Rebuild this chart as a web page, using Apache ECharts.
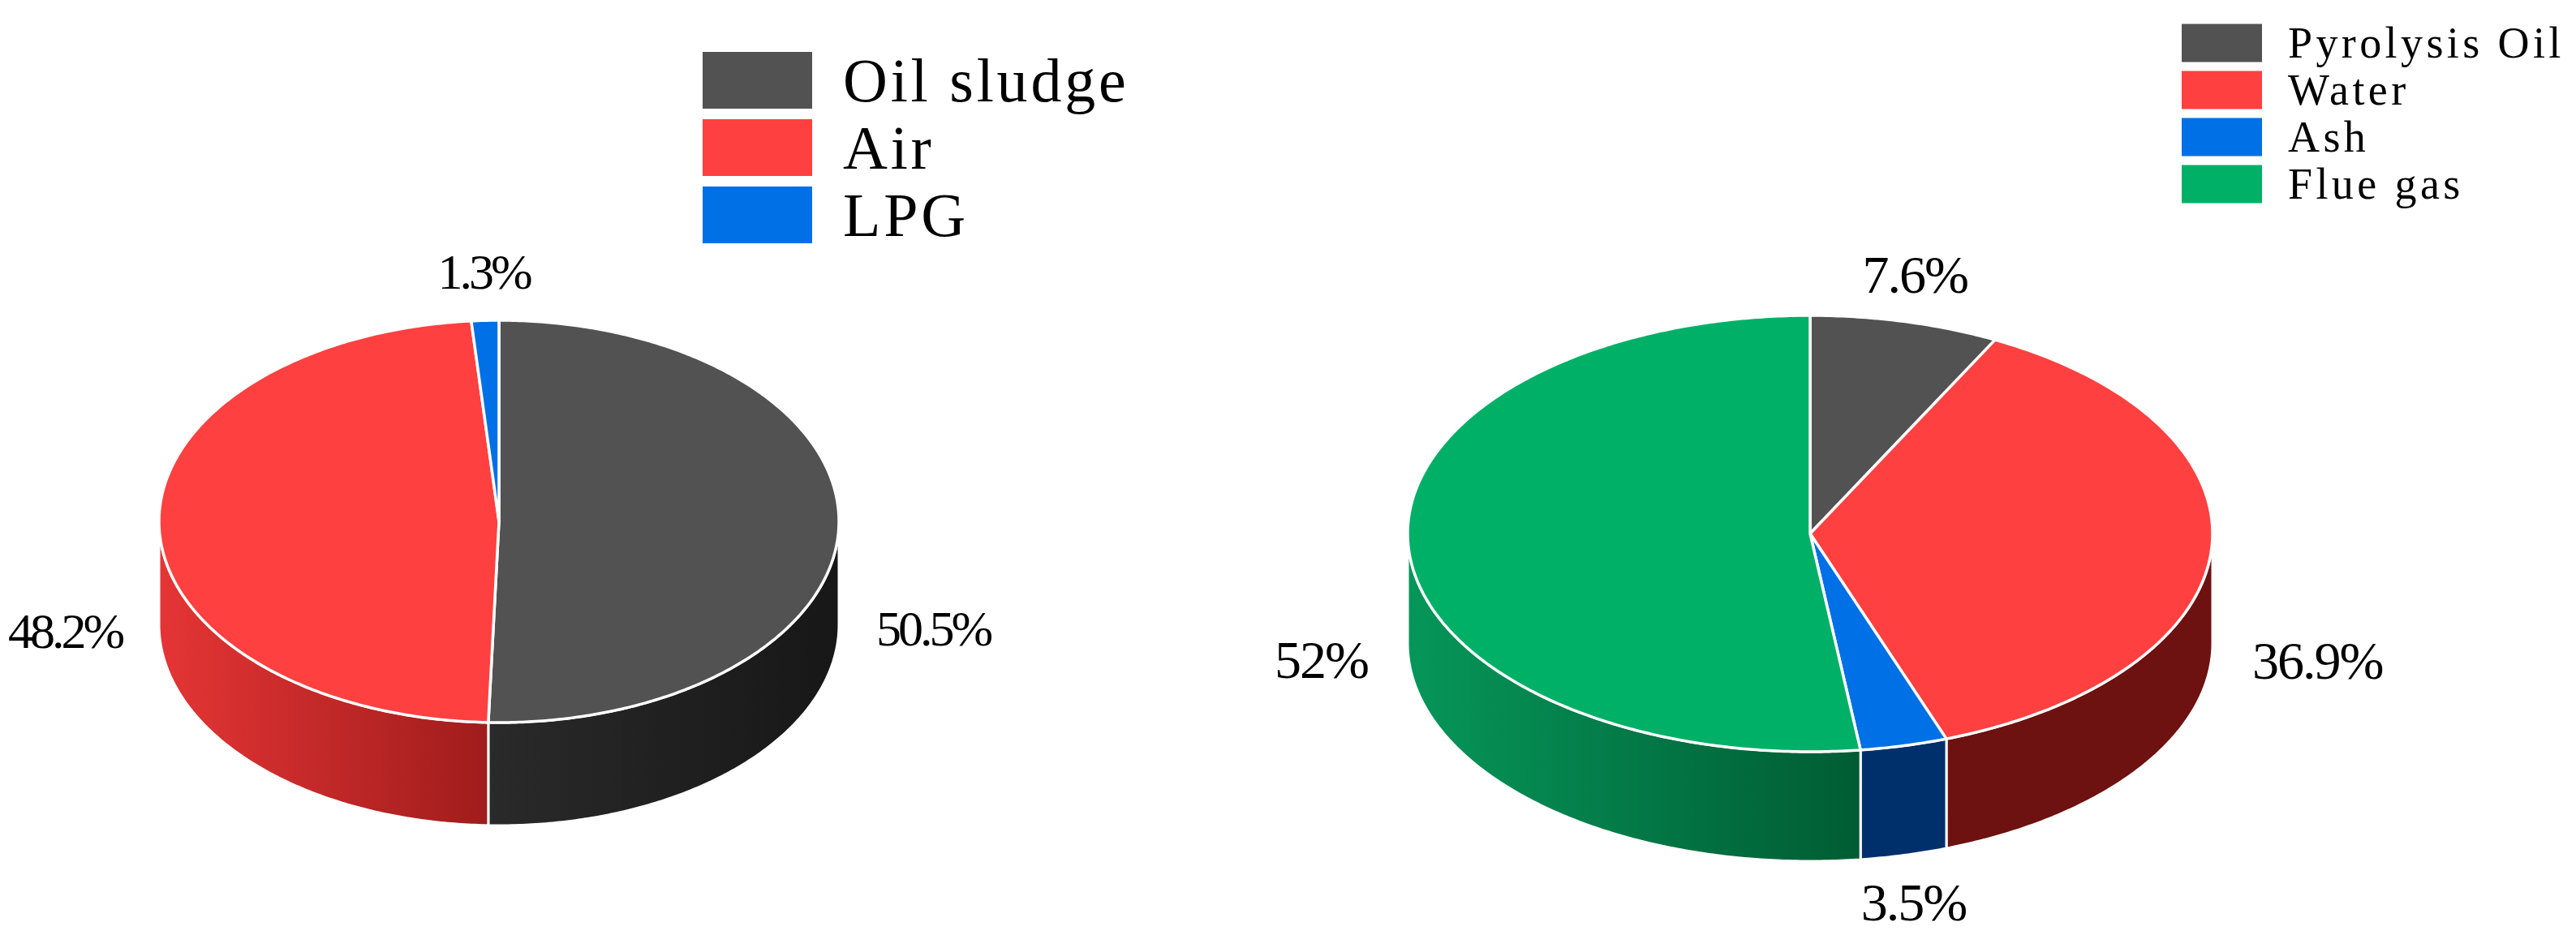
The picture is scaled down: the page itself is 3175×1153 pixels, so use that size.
<!DOCTYPE html>
<html>
<head>
<meta charset="utf-8">
<title>Pie charts</title>
<script src="https://cdn.jsdelivr.net/npm/echarts@6/dist/echarts.min.js"></script>
<style>
  html, body { margin: 0; padding: 0; background: #fff; }
  #chart { width: 3175px; height: 1153px; }
  /* canvas text has no letter spacing in zrender, so the svg renderer + css does it */
  svg text[style*="76px"] { letter-spacing: 3.8px; }
  svg text[style*="54px"] { letter-spacing: 4.4px; }
  svg text[style*="62px"] { letter-spacing: -4px; }
  svg text[style*="66px"] { letter-spacing: -2px; }
</style>
</head>
<body>
<div id="chart"></div>
<script>
// inlet
var inletNames = ["Oil sludge", "Air", "LPG"];
var inletValues = [50.5, 48.2, 1.3];
// outlet
var outletNames = ["Pyrolysis Oil", "Water", "Ash", "Flue gas"];
var outletValues = [7.6, 36.9, 3.5, 52];

var FONT = '"Liberation Serif", "Times New Roman", serif';

var inletPie = {
  cx: 615, cy: 643, rx: 419, ry: 248, depth: 127, labelFont: 62, labelGap: 46,
  top: ["#525252", "#ff4040", "#0070e6"],
  wall: [["#2a2a2a", "#171717"], ["#e53535", "#a01c1c"], ["#00306c", "#00306c"]]
};
var outletPie = {
  cx: 2231, cy: 658, rx: 496, ry: 269, depth: 135, labelFont: 66, labelGap: 50,
  top: ["#525252", "#ff4040", "#0070e6", "#00b067"],
  wall: [["#2a2a2a", "#171717"], ["#6e1111", "#6e1111"], ["#00306c", "#00306c"], ["#06965a", "#005c33"]]
};

function sum(arr) {
  return arr.reduce(function (a, b) { return a + b; }, 0);
}

// point on the rim, angle in radians clockwise from 12 o'clock
function rim(pie, a, dy) {
  return [pie.cx + pie.rx * Math.sin(a), pie.cy - pie.ry * Math.cos(a) + (dy || 0)];
}

function arcPoints(pie, a0, a1, dy) {
  var pts = [];
  var n = Math.max(2, Math.ceil(Math.abs(a1 - a0) / 0.01));
  for (var i = 0; i <= n; i++) {
    pts.push(rim(pie, a0 + (a1 - a0) * i / n, dy));
  }
  return pts;
}

function makeRenderItem(pie, total, index) {
  return function (params, api) {
    var value = api.value(0);
    var before = api.value(1);
    var a0 = before / total * Math.PI * 2;
    var a1 = (before + value) / total * Math.PI * 2;
    var children = [];

    // side wall, only the front half of the disc shows
    var w0 = Math.max(a0, Math.PI / 2);
    var w1 = Math.min(a1, Math.PI * 1.5);
    if (w1 > w0) {
      var wallPts = arcPoints(pie, w0, w1).concat(arcPoints(pie, w1, w0, pie.depth));
      children.push({
        type: "polygon",
        shape: { points: wallPts },
        style: {
          fill: new echarts.graphic.LinearGradient(0, 0, 1, 0, [
            { offset: 0, color: pie.wall[index][0] },
            { offset: 1, color: pie.wall[index][1] }
          ]),
          stroke: "#fff",
          lineWidth: 3
        }
      });
    }

    // top face
    children.push({
      type: "polygon",
      shape: { points: [[pie.cx, pie.cy]].concat(arcPoints(pie, a0, a1)) },
      style: { fill: pie.top[index], stroke: "#fff", lineWidth: 3.5, lineJoin: "round" }
    });

    // label sits outside the rim at the middle of the slice
    var mid = (a0 + a1) / 2;
    var front = Math.cos(mid) < 0;
    var p = rim(pie, mid, front ? pie.depth : 0);
    var sinMid = Math.sin(mid);
    var side = Math.abs(sinMid) > 0.5;
    children.push({
      type: "text",
      style: {
        text: value + "%",
        x: p[0] + (side ? (sinMid > 0 ? pie.labelGap : -pie.labelGap) : sinMid * pie.labelGap),
        y: p[1] - Math.cos(mid) * 60,
        align: side ? (sinMid > 0 ? "left" : "right") : "center",
        verticalAlign: "middle",
        fontFamily: FONT,
        fontSize: pie.labelFont,
        fill: "#000"
      }
    });
    return { type: "group", children: children };
  };
}

function pieSeries(pie, names, values) {
  var total = sum(values);
  return names.map(function (name, i) {
    return {
      type: "custom",
      name: name,
      coordinateSystem: "none",
      itemStyle: { color: pie.top[i] },
      renderItem: makeRenderItem(pie, total, i),
      data: [[values[i], sum(values.slice(0, i))]]
    };
  });
}

var chart = echarts.init(document.getElementById("chart"), null, { renderer: "svg" });

chart.setOption({
  animation: false,
  backgroundColor: "#fff",
  legend: [
    {
      data: inletNames,
      orient: "vertical",
      left: 866,
      top: 61,
      padding: 0,
      icon: "rect",
      itemWidth: 135,
      itemHeight: 70,
      itemGap: 7,
      selectedMode: false,
      textStyle: { fontFamily: FONT, fontSize: 76, color: "#000", padding: [0, 0, 0, 33] }
    },
    {
      data: outletNames,
      orient: "vertical",
      left: 2689,
      top: 26,
      padding: 0,
      icon: "rect",
      itemWidth: 99,
      itemHeight: 47,
      itemGap: 4,
      selectedMode: false,
      textStyle: { fontFamily: FONT, fontSize: 54, color: "#000", padding: [0, 0, 0, 27] }
    }
  ],
  series: pieSeries(inletPie, inletNames, inletValues)
    .concat(pieSeries(outletPie, outletNames, outletValues))
});
</script>
</body>
</html>
